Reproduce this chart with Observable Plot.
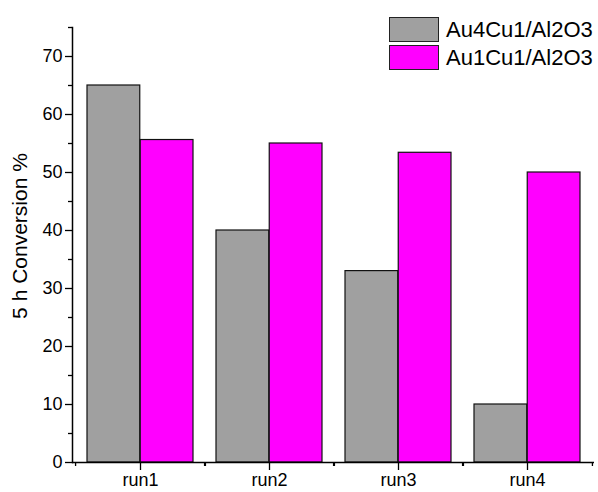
<!DOCTYPE html>
<html>
<head>
<meta charset="utf-8">
<script src="https://cdn.jsdelivr.net/npm/d3@7"></script>
<script src="https://cdn.jsdelivr.net/npm/@observablehq/plot@0.6"></script>
<style>
  html, body { margin: 0; padding: 0; background: #fff; }
  #wrap { position: relative; width: 598px; height: 492px; font-family: "Liberation Sans", Arial, sans-serif; }
  #legend { position: absolute; left: 389px; top: 15px; }
  .item { display: flex; align-items: center; height: 28.5px; white-space: nowrap; }
  .sw { width: 50px; height: 25px; border: 1.5px solid #222; box-sizing: border-box; margin-right: 7px; flex: none; }
  .lab { font-size: 22px; color: #000; line-height: 25px; }
</style>
</head>
<body>
<div id="wrap"><div id="legend"></div></div>
<script>
const runs = ["run1", "run2", "run3", "run4"];
const seriesNames = ["Au4Cu1/Al2O3", "Au1Cu1/Al2O3"];
const au4cu1 = [65, 40, 33, 10];
const au1cu1 = [55.6, 55, 53.4, 50];
const seriesColors = ["#a0a0a0", "#ff00ff"];
const yMajorTicks = [0, 10, 20, 30, 40, 50, 60, 70];
const yMinorTicks = [5, 15, 25, 35, 45, 55, 65, 75];
const yLabel = "5 h Conversion %";

const data = runs.flatMap((r, i) => [
  {run: r, series: seriesNames[0], value: au4cu1[i]},
  {run: r, series: seriesNames[1], value: au1cu1[i]}
]);

const W = 598, H = 492, ml = 72, mr = 4, mt = 27, mb = 30;
const padInner = 0.18, padOuter = 0.1;
const step = (W - ml - mr) / (runs.length - padInner + 2 * padOuter);
const halfBand = step * (1 - padInner) / 2;

const plot = Plot.plot({
  width: W, height: H,
  marginLeft: ml, marginRight: mr, marginTop: mt, marginBottom: mb,
  style: {fontFamily: "'Liberation Sans', Arial, sans-serif", fontSize: "18px", color: "#000", background: "#fff"},
  x: {domain: runs, paddingInner: padInner, paddingOuter: padOuter},
  y: {domain: [0, 75]},
  color: {domain: seriesNames, range: seriesColors},
  marks: [
    Plot.barY(data.filter(d => d.series === seriesNames[0]), {x: "run", y: "value", fill: "series", stroke: "#111", strokeWidth: 1.2, insetRight: halfBand}),
    Plot.barY(data.filter(d => d.series === seriesNames[1]), {x: "run", y: "value", fill: "series", stroke: "#111", strokeWidth: 1.2, insetLeft: halfBand}),
    Plot.ruleY([0], {stroke: "#000", strokeWidth: 1.5}),
    Plot.frame({anchor: "left", stroke: "#000", strokeWidth: 1.5}),
    Plot.axisY({ticks: yMajorTicks, tickSize: 7, tickPadding: 3, fontSize: 18, label: null, strokeWidth: 1.3}),
    Plot.axisY({ticks: yMinorTicks, tickSize: 4, tickFormat: () => "", label: null, strokeWidth: 1.3}),
    Plot.axisX({tickSize: 8, tickPadding: 3, fontSize: 18, label: null, strokeWidth: 1.3}),
    Plot.axisX({tickSize: 4, tickFormat: () => "", label: null, dx: -step / 2, strokeWidth: 1.3}),
    Plot.axisX({tickSize: 4, tickFormat: () => "", label: null, dx: step / 2, strokeWidth: 1.3}),
    Plot.text([yLabel], {text: d => d, frameAnchor: "left", textAnchor: "middle", rotate: -90, dx: -52, dy: -9, fontSize: 21, fill: "#000"})
  ]
});
document.getElementById("wrap").prepend(plot);

const legend = document.getElementById("legend");
seriesNames.forEach((s, i) => {
  const item = document.createElement("div");
  item.className = "item";
  const sw = document.createElement("div");
  sw.className = "sw";
  sw.style.background = seriesColors[i];
  const lab = document.createElement("span");
  lab.className = "lab";
  lab.textContent = s;
  item.append(sw, lab);
  legend.append(item);
});
</script>
</body>
</html>
